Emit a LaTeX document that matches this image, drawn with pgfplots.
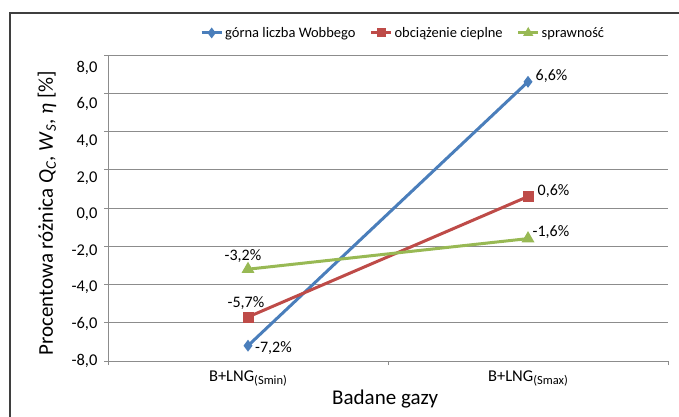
\documentclass[border=0pt]{standalone}
\usepackage{fontspec}
\setmainfont{Carlito}
\usepackage{pgfplots}
\pgfplotsset{compat=1.18}
\usepackage{pgfplotstable}

\definecolor{cblue}{HTML}{4A7EBB}
\definecolor{cred}{HTML}{BE4B48}
\definecolor{cgreen}{HTML}{98B954}
\definecolor{cgrid}{HTML}{8C8C8C}
\definecolor{cframe}{HTML}{3F3F3F}

\pgfplotstableread{
x y dx dy
0 -7.2 25.5 -2.3
1 6.6 23.5 6
}\wobbe
\pgfplotstableread{
x y dx dy
0 -5.7 -2 14
1 0.6 25.5 5.5
}\obc
\pgfplotstableread{
x y dx dy
0 -3.2 -5 13
1 -1.6 23 6.6
}\spr

\begin{document}
\begin{tikzpicture}[x=1pt,y=1pt]
\useasboundingbox (0,0) rectangle (679,417);
\clip (0,0) rectangle (679,417);
\draw[cframe, line width=1.5pt] (10,404) rectangle (720,-30);
\begin{axis}[
  at={(108pt,56pt)}, anchor=south west,
  scale only axis, width=560pt, height=306pt,
  xmin=-0.5, xmax=1.5, ymin=-8, ymax=8,
  clip=false,
  axis x line*=bottom, axis y line*=left,
  axis line style={cgrid, line width=1pt, -},
  /pgf/number format/assume math mode=true,
  ytick={-8,-6,...,8},
  yticklabels={},
  extra y ticks={7.331,5.414,3.498,1.582,-0.335,-2.251,-4.167,-6.084,-8},
  extra y tick labels={{8,0},{6,0},{4,0},{2,0},{0,0},{-2,0},{-4,0},{-6,0},{-8,0}},
  extra y tick style={tick style={draw=none}, grid=none},
  yticklabel style={font=\fontsize{16.5}{19}\selectfont, anchor=east, xshift=-3pt},
  ymajorgrids,
  major grid style={cgrid, line width=0.8pt},
  tick align=outside,
  major tick length=4pt,
  tick style={cgrid, line width=0.8pt},
  xtick={-0.5,0.5,1.5},
  xticklabels={},
  extra x ticks={0,1},
  extra x tick labels={B+LNG\raisebox{-3pt}{\fontsize{12.5}{14}\selectfont(Smin)}, B+LNG\raisebox{-3pt}{\fontsize{12.5}{14}\selectfont(Smax)}},
  extra x tick style={tick style={draw=none}},
  xticklabel style={font=\fontsize{16.5}{19}\selectfont, anchor=north, yshift=-2pt},
  xlabel={Badane gazy},
  xlabel style={font=\fontsize{21}{24}\selectfont, at={(axis description cs:0.495,-0.124)}, anchor=center},
  ylabel={Procentowa różnica \textit{Q}\textsubscript{\textit{C}}, \textit{W}\textsubscript{\textit{S}}, \textit{η} [\%]},
  ylabel style={font=\fontsize{21}{24}\selectfont, at={(axis description cs:-0.109,0.483)}, anchor=center},
  legend columns=3,
  legend style={at={(axis description cs:0.527,1.072)}, anchor=center, draw=none, fill=none,
    font=\fontsize{14.5}{16}\selectfont,
    /tikz/every even column/.append style={column sep=12pt}},
  legend image code/.code={\draw[mark repeat=2,mark phase=2, mark size=3pt] plot coordinates {(0pt,0pt)(10pt,0pt)(20pt,0pt)};},
  nodes near coords={\pgfmathprintnumber[fixed,fixed zerofill,precision=1,use comma]{\pgfplotspointmeta}\%},
  visualization depends on={\thisrow{dx} \as \mydx},
  visualization depends on={\thisrow{dy} \as \mydy},
  nodes near coords style={anchor=center, xshift=\mydx pt, yshift=\mydy pt, font=\fontsize{16}{19}\selectfont, text=black},
]
\addplot[cblue, line width=3pt, mark=diamond*, mark size=3.5pt, mark options={solid}] table[x=x,y=y]{\wobbe};
\addlegendentry{górna liczba Wobbego}
\addplot[cred, line width=3pt, mark=square*, mark size=4pt, mark options={solid}] table[x=x,y=y]{\obc};
\addlegendentry{obciążenie cieplne}
\addplot[cgreen, line width=3pt, mark=triangle*, mark size=4.5pt, mark options={solid}] table[x=x,y=y]{\spr};
\addlegendentry{sprawność}
\end{axis}
\end{tikzpicture}
\end{document}
